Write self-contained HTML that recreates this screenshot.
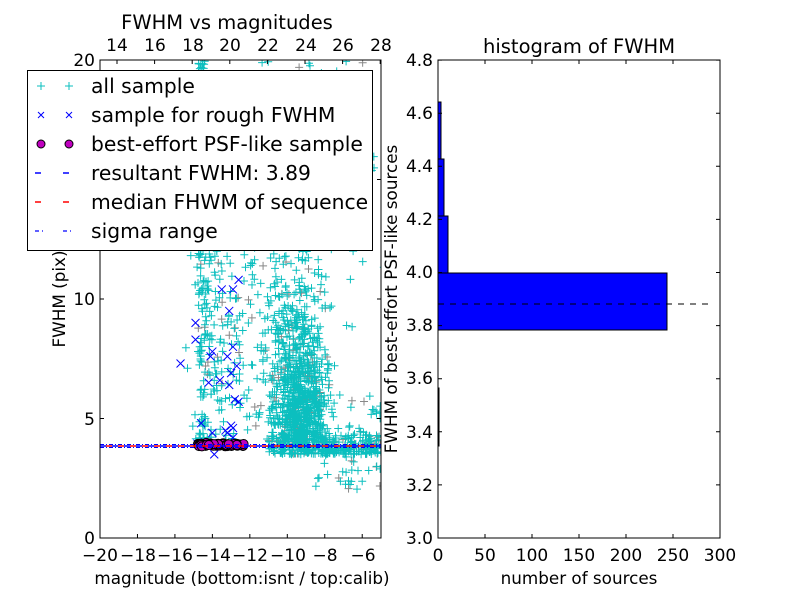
<!DOCTYPE html>
<html><head><meta charset="utf-8"><style>
body{margin:0;background:#fff;}
svg{display:block;font-family:"DejaVu Sans","Liberation Sans",sans-serif;}
</style></head><body>
<svg id="s" width="800" height="600" xmlns="http://www.w3.org/2000/svg">
<defs><clipPath id="cl"><rect x="100" y="60" width="281" height="478"/></clipPath></defs>
<rect width="800" height="600" fill="#fff"/>
<g id="pts" clip-path="url(#cl)"></g>
<g clip-path="url(#cl)">
<line x1="100" y1="446" x2="381" y2="446" stroke="#00f" stroke-width="1.5" stroke-dasharray="6,6"/>
<line x1="106" y1="446" x2="381" y2="446" stroke="red" stroke-width="1.5" stroke-dasharray="6,6"/>
<line x1="100" y1="444.5" x2="381" y2="444.5" stroke="#00f" stroke-width="1" stroke-dasharray="4,2,1,2"/>
<line x1="100" y1="447.5" x2="381" y2="447.5" stroke="#00f" stroke-width="1" stroke-dasharray="4,2,1,2"/>
</g>
<rect x="100" y="60" width="281" height="478" fill="none" stroke="#000" stroke-width="1"/>
<g id="lt" stroke="#000" stroke-width="1"></g>
<g font-size="17" fill="#000" text-anchor="middle">
<text x="227" y="29" font-size="19.5">FWHM vs magnitudes</text>
<text x="117" y="51">14</text><text x="155" y="51">16</text><text x="193" y="51">18</text><text x="230" y="51">20</text><text x="268" y="51">22</text><text x="306" y="51">24</text><text x="343" y="51">26</text><text x="381" y="51">28</text>
<text x="100" y="561">−20</text><text x="138" y="561">−18</text><text x="175" y="561">−16</text><text x="213" y="561">−14</text><text x="250" y="561">−12</text><text x="288" y="561">−10</text><text x="325" y="561">−8</text><text x="363" y="561">−6</text>
<text x="242" y="584" font-size="16.8">magnitude (bottom:isnt / top:calib)</text>
<g text-anchor="end"><text x="95" y="544">0</text><text x="95" y="425">5</text><text x="95" y="305">10</text><text x="95" y="66">20</text></g>
<text transform="translate(65,299) rotate(-90)" font-size="16.8">FWHM (pix)</text>
</g>
<rect x="27.5" y="70.5" width="345" height="180" fill="#fff" stroke="#000" stroke-width="1"/>
<g font-size="20.3" fill="#000">
<text x="91" y="93">all sample</text>
<text x="91" y="122">sample for rough FWHM</text>
<text x="91" y="151">best-effort PSF-like sample</text>
<text x="91" y="180">resultant FWHM: 3.89</text>
<text x="91" y="209">median FHWM of sequence</text>
<text x="91" y="238">sigma range</text>
</g>
<g stroke="#0bbfbf" stroke-width="1"><path d="M37 86h8M41 82v8M65 86h8M69 82v8"/></g>
<g stroke="#00f" stroke-width="1"><path d="M38 112l6 6M44 112l-6 6M66 112l6 6M72 112l-6 6"/></g>
<circle cx="41" cy="144" r="4" fill="#bf00bf" stroke="#000"/><circle cx="69" cy="144" r="4" fill="#bf00bf" stroke="#000"/>
<path d="M35 173h6M63 173h6" stroke="#00f" stroke-width="1.5"/>
<path d="M35 202h6M63 202h6" stroke="red" stroke-width="1.5"/>
<path d="M35 231h4M42 231h1M63 231h4M70 231h1" stroke="#00f" stroke-width="1.2"/>
<!-- right -->
<rect x="438" y="102" width="3" height="171" fill="#00f" stroke="#000"/>
<rect x="438" y="159" width="6" height="114" fill="#00f" stroke="#000"/>
<rect x="438" y="216" width="10" height="57" fill="#00f" stroke="#000"/>
<rect x="438" y="273" width="229" height="57" fill="#00f" stroke="#000"/>
<rect x="438" y="388" width="1" height="58" fill="#00f" stroke="#000"/>
<line x1="438" y1="304" x2="712" y2="304" stroke="#000" stroke-width="1" stroke-dasharray="6,6"/>
<rect x="438" y="60" width="282" height="478" fill="none" stroke="#000"/>
<g id="rt" stroke="#000" stroke-width="1"></g>
<g font-size="17" fill="#000" text-anchor="middle">
<text x="579" y="53" font-size="19.5">histogram of FWHM</text>
<text x="438" y="561">0</text><text x="485" y="561">50</text><text x="532" y="561">100</text><text x="579" y="561">150</text><text x="626" y="561">200</text><text x="673" y="561">250</text><text x="720" y="561">300</text>
<text x="579" y="584" font-size="16.8">number of sources</text>
<g text-anchor="end"><text x="433" y="544">3.0</text><text x="433" y="491">3.2</text><text x="433" y="438">3.4</text><text x="433" y="384">3.6</text><text x="433" y="331">3.8</text><text x="433" y="278">4.0</text><text x="433" y="225">4.2</text><text x="433" y="172">4.4</text><text x="433" y="119">4.6</text><text x="433" y="66">4.8</text></g>
<text transform="translate(397,299) rotate(-90)" font-size="16.8">FWHM of best-effort PSF-like sources</text>
</g>
</svg>
<script>
var s=12345;function r(){s=(s*1103515245+12345)%2147483648;return s/2147483648;}
function n(){return (r()+r()+r()+r()-2)*0.9;}
function X(m){return 100+(m+20)*18.73;}function Y(f){return 538-f*23.9;}
var c='',g='',b='',m='';
function add(x,y){var px=X(x),py=Y(y);if(r()<0.1)g+='M'+(px-4)+' '+py+'h8M'+px+' '+(py-4)+'v8';else c+='M'+(px-4).toFixed(1)+' '+py.toFixed(1)+'h8M'+px.toFixed(1)+' '+(py-4).toFixed(1)+'v8';}
for(var i=0;i<700;i++){var x=-9.3+n()*1.4,y=4+Math.abs(n())*5;add(x,y);}
for(i=0;i<300;i++){add(-10+n()*2,4.5+r()*11);}
for(i=0;i<160;i++){add(-14.5+n()*0.3,4+r()*16);}
for(i=0;i<150;i++){add(-13.5+n()*1.4,4+r()*9);}
for(i=0;i<350;i++){add(-11+r()*6,3.5+Math.abs(n())*0.9);}
for(i=0;i<60;i++){add(-8.5+r()*3.5,2+r()*4);}
for(i=0;i<80;i++){add(-12+r()*8,8+r()*12);}
var bl=[[-15.7,7.3],[-14.9,9],[-14.9,8.3],[-14.1,7.6],[-14,7.8],[-13.5,10.4],[-13.2,7.6],[-13.1,9.5],[-12.9,10.4],[-12.9,8],[-12.6,10.8],[-12.6,5.7],[-13.6,6.6],[-13.1,6.4],[-13,6.9],[-12.8,5.8],[-14.6,4.8],[-14,4.4],[-13.2,4.4],[-12.9,4.6],[-13.9,3.5],[-13,4.7],[-12.9,4.2],[-14.4,4],[-13.3,4.5],[-14.8,3.95],[-14.2,6.5],[-12.7,7.2]];
bl.forEach(function(p){var px=X(p[0]),py=Y(p[1]);b+='M'+(px-4)+' '+(py-4)+'l8 8M'+(px+4)+' '+(py-4)+'l-8 8';});
for(i=0;i<90;i++){var x=-14.8+r()*2.5;m+='<circle cx="'+X(x).toFixed(1)+'" cy="'+(Y(3.9+n()*0.06)).toFixed(1)+'" r="4.5" fill="#bf00bf" stroke="#000"/>';}
document.getElementById('pts').innerHTML='<path d="'+g+'" stroke="#888" fill="none"/><path d="'+c+'" stroke="#0bbfbf" fill="none"/><path d="'+b+'" stroke="#00f" fill="none"/>'+m;
var lt='';for(var k=0;k<8;k++){var x=X(-20+2*k);lt+='M'+x+' 538v-4M'+(117+k*37.6)+' 60v4';}
[0,5,10,15,20].forEach(function(v){lt+='M100 '+Y(v)+'h4M381 '+Y(v)+'h-4';});
document.getElementById('lt').innerHTML='<path d="'+lt+'"/>';
var rt='';for(k=0;k<=6;k++){var x=438+k*47;rt+='M'+x+' 538v-4M'+x+' 60v4';}
for(k=0;k<=9;k++){var y=538-k*53.1;rt+='M438 '+y+'h4M720 '+y+'h-4';}
document.getElementById('rt').innerHTML='<path d="'+rt+'"/>';
</script>
</body></html>
